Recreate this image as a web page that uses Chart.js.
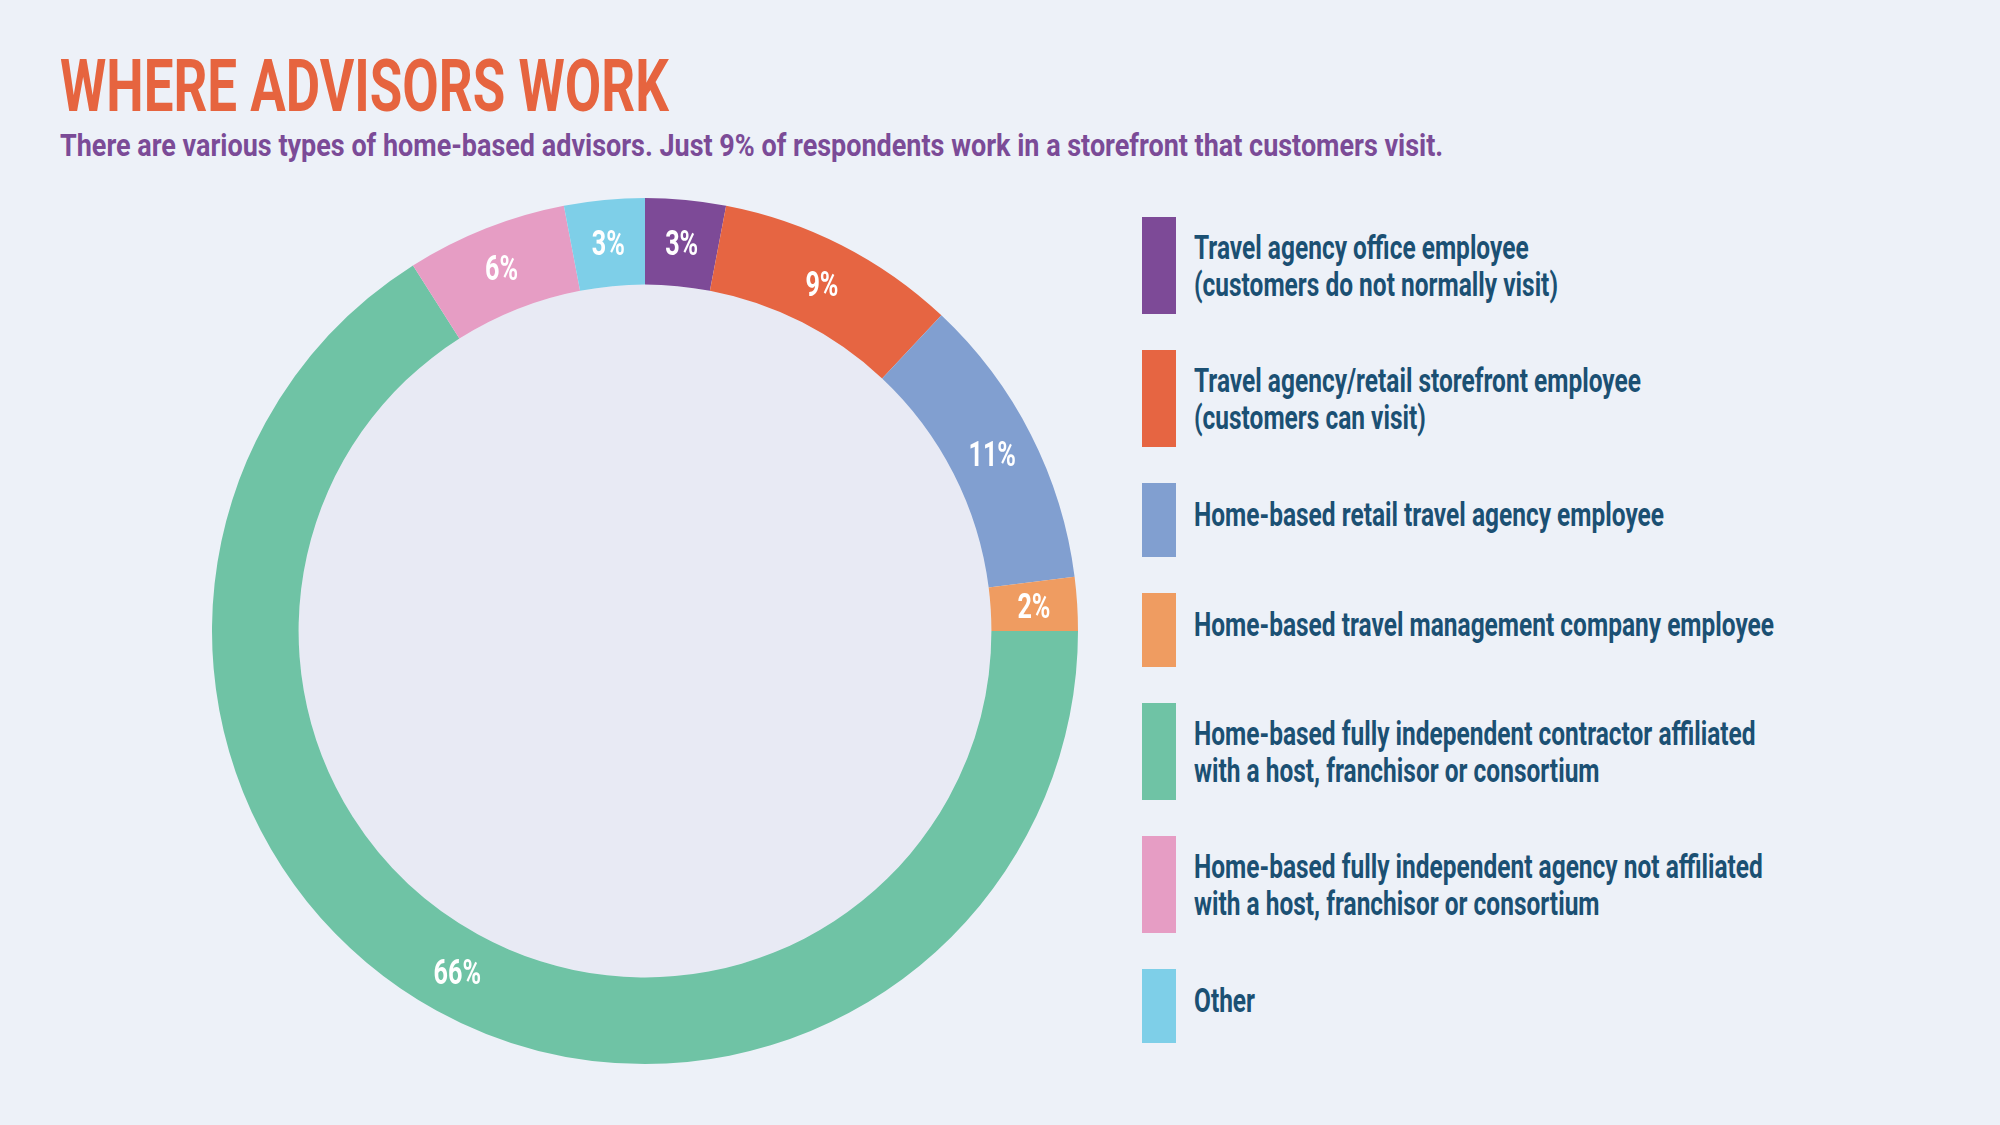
<!DOCTYPE html>
<html>
<head>
<meta charset="utf-8">
<script src="https://cdn.jsdelivr.net/npm/chart.js@4.4.1/dist/chart.umd.min.js"></script>
<style>
  html, body { margin: 0; padding: 0; }
  body {
    width: 2000px; height: 1125px; position: relative; overflow: hidden;
    background: #edf1f8;
    font-family: Roboto, "Liberation Sans", sans-serif;
    font-weight: 700;
  }
  .cond { display: inline-block; transform-origin: 0 50%; white-space: nowrap; }
  #title {
    position: absolute; left: 60px; top: 48px;
    font-size: 73px; line-height: 76px; color: #e6643f;
  }
  #title .cond { transform: scaleX(0.725); }
  #subtitle {
    position: absolute; left: 60px; top: 129px;
    font-size: 31px; line-height: 34px; color: #7b4b97;
  }
  #subtitle .cond { transform: scaleX(0.87); }
  #chart-box { position: absolute; left: 212px; top: 198px; width: 866px; height: 866px; }
  #legend { position: absolute; left: 1142px; top: 217px; }
  .leg-item { display: flex; align-items: center; margin-bottom: 36px; }
  .leg-swatch { width: 34px; flex: none; }
  .leg-text {
    margin-left: 18px; font-size: 34px; line-height: 37px; color: #1b5073;
  }
  .leg-text .cond { transform: scaleX(0.72); }
  .leg-text.single { position: relative; top: -6px; }
</style>
</head>
<body>

<div id="title"><span class="cond">WHERE ADVISORS WORK</span></div>
<div id="subtitle"><span class="cond">There are various types of home-based advisors. Just 9% of respondents work in a storefront that customers visit.</span></div>
<div id="chart-box"><canvas id="donut"></canvas></div>
<div id="legend"></div>

<script>
// ─────────────────────────────────────────────
// Data
// ─────────────────────────────────────────────

const categories = [
  ['Travel agency office employee', '(customers do not normally visit)'],
  ['Travel agency/retail storefront employee', '(customers can visit)'],
  ['Home-based retail travel agency employee'],
  ['Home-based travel management company employee'],
  ['Home-based fully independent contractor affiliated', 'with a host, franchisor or consortium'],
  ['Home-based fully independent agency not affiliated', 'with a host, franchisor or consortium'],
  ['Other'],
];

const shares = [3, 9, 11, 2, 66, 6, 3];

const colors = ['#7d4a97', '#e66542', '#819fd0', '#ef9c61', '#6fc3a5', '#e69dc4', '#7ecfe8'];

// ─────────────────────────────────────────────
// Plugins: inner disc + percentage labels
// ─────────────────────────────────────────────

const innerFill = {
  id: 'innerFill',
  beforeDatasetsDraw(chart) {
    const arc = chart.getDatasetMeta(0).data[0];
    if (!arc) return;
    const ctx = chart.ctx;
    ctx.save();
    ctx.fillStyle = '#e8eaf4';
    ctx.beginPath();
    ctx.arc(arc.x, arc.y, arc.innerRadius, 0, Math.PI * 2);
    ctx.fill();
    ctx.restore();
  }
};

const sliceLabels = {
  id: 'sliceLabels',
  afterDatasetsDraw(chart) {
    const ctx = chart.ctx;
    const meta = chart.getDatasetMeta(0);
    ctx.save();
    ctx.fillStyle = '#ffffff';
    ctx.font = '700 35px Roboto, "Liberation Sans", sans-serif';
    ctx.textAlign = 'center';
    ctx.textBaseline = 'middle';
    meta.data.forEach((arc, i) => {
      const mid = (arc.startAngle + arc.endAngle) / 2;
      const r = (arc.innerRadius + arc.outerRadius) / 2;
      const x = arc.x + Math.cos(mid) * r;
      const y = arc.y + Math.sin(mid) * r;
      ctx.save();
      ctx.translate(x, y + 3);
      ctx.scale(0.72, 1);
      ctx.fillText(shares[i] + '%', 0, 0);
      ctx.restore();
    });
    ctx.restore();
  }
};

new Chart(document.getElementById('donut'), {
  type: 'doughnut',
  data: {
    labels: categories.map(c => c.join(' ')),
    datasets: [{
      data           : shares,
      backgroundColor: colors,
      borderWidth    : 0,
      hoverOffset    : 0,
    }]
  },
  options: {
    responsive: true,
    maintainAspectRatio: false,
    animation: false,
    cutout: '80%',
    layout: { padding: 0 },
    plugins: {
      legend : { display: false },
      tooltip: { enabled: false },
    }
  },
  plugins: [innerFill, sliceLabels]
});

// ─────────────────────────────────────────────
// Legend (HTML)
// ─────────────────────────────────────────────

const legend = document.getElementById('legend');
categories.forEach((lines, i) => {
  const item = document.createElement('div');
  item.className = 'leg-item';
  item.innerHTML = `
    <div class="leg-swatch" style="background:${colors[i]};height:${lines.length > 1 ? 97 : 74}px"></div>
    <div class="leg-text${lines.length > 1 ? '' : ' single'}">${lines.map(l => `<span class="cond">${l}</span>`).join('<br>')}</div>`;
  legend.appendChild(item);
});
</script>
</body>
</html>
